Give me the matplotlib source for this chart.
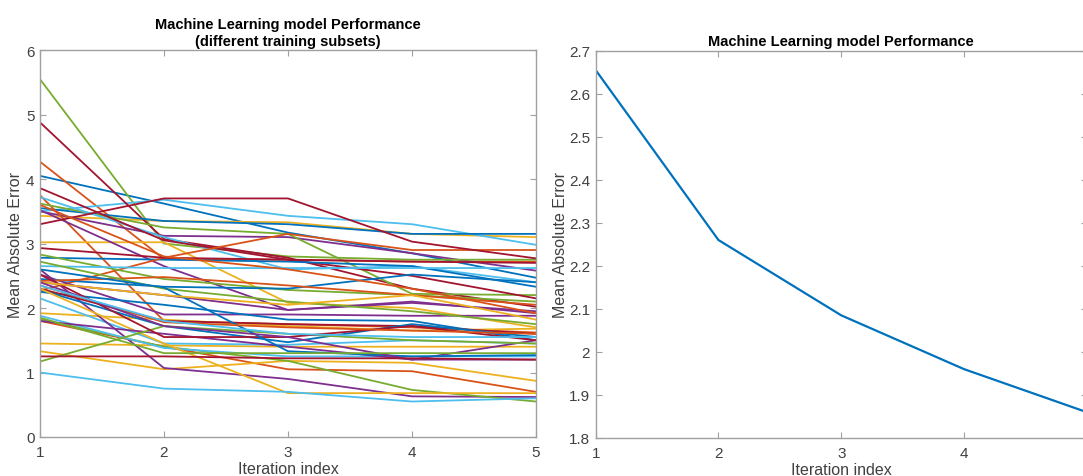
import matplotlib
matplotlib.use("Agg")
import matplotlib.pyplot as plt

plt.rcParams['font.family'] = ['Liberation Sans', 'DejaVu Sans']

iterations = [1, 2, 3, 4, 5]

# per-subset MAE curves (left panel), in plotting order
subset_curves = [
    [4.05, 3.62, 3.17, 2.85, 2.47],
    [4.27, 2.76, 2.75, 2.72, 2.72],
    [3.43, 3.35, 3.33, 3.15, 3.10],
    [3.50, 3.12, 3.10, 2.85, 2.58],
    [5.55, 3.00, 2.80, 2.75, 2.75],
    [3.50, 3.68, 3.43, 3.30, 2.98],
    [4.88, 3.07, 2.78, 2.30, 2.02],

    [3.55, 3.35, 3.30, 3.15, 3.15],
    [3.75, 1.80, 1.75, 1.70, 1.62],
    [3.02, 3.02, 2.08, 2.00, 1.70],
    [3.52, 2.65, 1.97, 2.08, 1.95],
    [3.62, 3.25, 3.15, 2.22, 2.20],
    [3.72, 3.10, 2.60, 2.65, 2.40],
    [3.86, 3.05, 2.75, 2.50, 2.15],

    [2.78, 2.75, 2.72, 2.65, 2.33],
    [2.27, 2.78, 3.15, 2.90, 2.90],
    [1.92, 1.82, 1.72, 1.65, 1.68],
    [2.52, 1.90, 1.90, 1.88, 1.88],
    [2.83, 2.45, 2.28, 2.20, 2.10],
    [2.65, 2.62, 2.62, 2.62, 2.62],
    [3.30, 3.70, 3.70, 3.03, 2.77],

    [2.45, 2.33, 2.30, 2.52, 2.40],
    [2.42, 2.48, 2.35, 2.20, 2.05],
    [1.45, 1.42, 1.40, 1.40, 1.40],
    [2.40, 2.20, 1.97, 2.10, 1.92],
    [2.72, 2.30, 2.10, 1.95, 1.75],
    [2.15, 1.45, 1.43, 1.50, 1.45],
    [2.93, 2.78, 2.75, 2.72, 2.70],

    [2.25, 2.05, 1.82, 1.80, 1.50],
    [1.80, 1.40, 1.05, 1.02, 0.70],
    [1.33, 1.05, 1.18, 1.15, 0.87],
    [2.60, 1.07, 0.90, 0.63, 0.62],
    [1.83, 1.40, 1.18, 0.73, 0.55],
    [1.88, 1.38, 1.25, 1.25, 1.25],
    [2.30, 1.80, 1.75, 1.72, 1.60],

    [2.28, 1.72, 1.47, 1.75, 1.55],
    [3.60, 2.80, 2.60, 2.30, 1.92],
    [2.30, 1.45, 0.68, 0.68, 0.68],
    [1.80, 1.60, 1.40, 1.20, 1.50],
    [1.17, 1.72, 1.60, 1.50, 1.45],
    [1.00, 0.75, 0.70, 0.55, 0.60],
    [2.52, 1.55, 1.55, 1.72, 1.50],

    [2.60, 2.32, 1.33, 1.25, 1.27],
    [2.35, 1.78, 1.70, 1.65, 1.60],
    [2.40, 2.20, 2.05, 2.20, 1.82],
    [2.40, 1.72, 1.55, 1.20, 1.20],
    [1.85, 1.30, 1.30, 1.30, 1.30],
    [2.35, 1.80, 1.60, 1.55, 1.55],
    [1.25, 1.25, 1.22, 1.22, 1.20],
]

# averaged MAE (right panel)
mean_curve = [2.655, 2.26, 2.085, 1.96, 1.86]

left_yticks = [0, 1, 2, 3, 4, 5, 6]
right_yticks = [1.8, 1.9, 2.0, 2.1, 2.2, 2.3, 2.4, 2.5, 2.6, 2.7]
right_yticklabels = ['1.8', '1.9', '2', '2.1', '2.2', '2.3', '2.4', '2.5', '2.6', '2.7']

matlab_colors = ['#0072BD', '#D95319', '#EDB120', '#7E2F8E',
                 '#77AC30', '#4DBEEE', '#A2142F']
text_gray = '#404040'

fig = plt.figure(figsize=(10.83, 4.77), dpi=100)
ax1 = fig.add_axes([0.0369, 0.0818, 0.458, 0.811])
ax2 = fig.add_axes([0.550, 0.0797, 0.4535, 0.812])

ax1.set_prop_cycle(color=matlab_colors)
for curve in subset_curves:
    ax1.plot(iterations, curve, linewidth=1.3)

ax2.plot(iterations, mean_curve, color=matlab_colors[0], linewidth=1.6)

for ax in (ax1, ax2):
    ax.set_xlim(1, 5)
    ax.set_xticks(iterations)
    for s in ax.spines.values():
        s.set_color('#a0a0a0')
        s.set_linewidth(1.0)
    ax.tick_params(direction='in', top=True, right=True, length=4,
                   color='#a0a0a0', labelcolor=text_gray, labelsize=11)
    ax.tick_params(axis='y', pad=4)
    ax.tick_params(axis='x', pad=6)
    ax.set_xlabel('Iteration index', fontsize=11.5, color=text_gray, labelpad=1)

ax1.set_ylabel('Mean Absolute Error', fontsize=11.5, color=text_gray, labelpad=2)
ax2.set_ylabel('Mean Absolute Error', fontsize=11.5, color=text_gray, labelpad=1)

ax1.set_ylim(0, 6)
ax1.set_yticks(left_yticks)
ax1.set_title('Machine Learning model Performance\n(different training subsets)',
              fontsize=10.5, fontweight='bold', pad=4, linespacing=1.2)

ax2.set_ylim(1.8, 2.7)
ax2.set_yticks(right_yticks)
ax2.set_yticklabels(right_yticklabels)
ax2.set_xticklabels(['1', '2', '3', '4', ''])
ax2.set_title('Machine Learning model Performance',
              fontsize=10.5, fontweight='bold', pad=4)

fig.savefig('out.png', dpi=100)
